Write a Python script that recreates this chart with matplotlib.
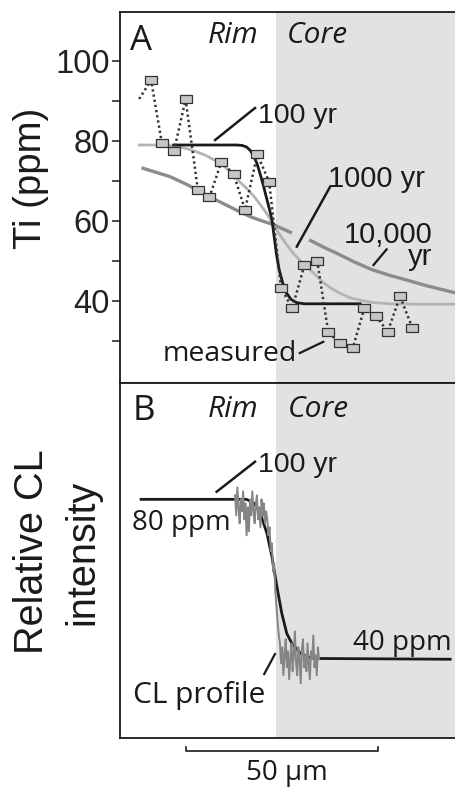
import numpy as np
import matplotlib
matplotlib.use("Agg")
import matplotlib.pyplot as plt
from matplotlib.transforms import blended_transform_factory

# x in um from the left edge of the panels, y in ppm
x_max = 87.6
rim_core_x = 40.7

# measured Ti profile (squares)
meas_x = [8.1, 10.9, 14.1, 17.1, 20.3, 23.3, 26.4, 29.6, 32.6, 35.8, 38.9, 42.0,
          44.9, 48.1, 51.4, 54.3, 57.4, 60.7, 63.7, 66.8, 69.8, 73.0, 76.2]
meas_y = [95.2, 79.6, 77.6, 90.4, 67.8, 65.9, 74.7, 71.8, 62.8, 76.7, 69.7, 43.2,
          38.2, 49.0, 50.1, 32.2, 29.4, 28.3, 38.2, 36.2, 32.3, 41.2, 33.3]
meas_lead_x = [5.0]
meas_lead_y = [90.5]

# diffusion models
yr100_x = [14.0, 30.4, 31.8, 33.0, 34.0, 34.8, 35.7, 36.5, 37.4, 38.3, 39.0, 39.6,
           40.2, 40.8, 41.5, 42.4, 43.4, 44.6, 46.0, 48.0, 62.6]
yr100_y = [79.0, 79.0, 78.9, 78.5, 77.6, 76.3, 74.4, 71.9, 68.8, 65.4, 62.8, 60.4,
           56.0, 51.6, 47.8, 44.6, 42.0, 40.4, 39.6, 39.3, 39.3]

yr1000_x = [4.7, 10.0, 14.0, 17.4, 20.0, 22.6, 25.0, 27.0, 29.0, 31.3, 33.0, 34.8,
            36.5, 38.3, 40.0, 41.7, 43.5, 45.2, 47.0, 48.7, 51.0, 53.0, 55.0, 57.4,
            60.0, 62.6, 66.0, 70.4, 78.0, 87.6]
yr1000_y = [79.0, 79.0, 78.8, 78.1, 77.3, 76.3, 75.0, 73.8, 72.1, 69.7, 68.2, 66.3,
            64.2, 61.8, 59.1, 56.5, 54.0, 51.9, 50.1, 48.6, 46.5, 44.6, 43.2, 41.9,
            40.8, 40.2, 39.6, 39.3, 39.2, 39.2]

yr10000_x = [5.6, 13.0, 17.5, 21.7, 26.0, 30.4, 33.9, 36.5, 40.0, 42.5, 44.8, np.nan,
             49.3, 53.0, 57.0, 61.0, 65.5, 70.0, 74.5, 80.0, 87.6]
yr10000_y = [73.3, 71.1, 69.1, 66.9, 64.8, 62.7, 61.1, 60.2, 59.1, 58.0, 57.0, np.nan,
             55.3, 53.5, 51.7, 49.8, 47.9, 46.5, 45.3, 43.8, 42.0]

# panel B: model line and CL profile (relative, on the ppm scale)
modelB_x = [5.5, 33.0, 35.0, 36.5, 38.3, 39.6, 40.9, 42.2, 43.5, 44.8, 47.0, 50.0, 86.1]
modelB_y = [80.0, 80.0, 79.0, 76.7, 71.5, 65.7, 58.2, 51.4, 46.4, 44.0, 41.5, 40.2, 40.0]

cl_y = [81, 76, 83, 78, 74, 80, 77, 82, 75, 79, 71, 78, 72, 80, 76, 82, 77, 74, 79, 81,
        75, 78, 73, 80, 76, 79, 74, 77,
        75, 71, 73, 67, 69, 62, 64, 57, 53, 49, 46,
        44, 39, 43, 36, 41, 45, 38, 42, 35, 40, 44, 37, 41, 47, 39, 36, 43, 40, 34, 42, 45,
        38, 41, 37, 44, 39, 35, 42, 40, 46, 38, 41, 36, 43, 40]
cl_x = np.linspace(30.0, 51.9, len(cl_y))

scale_bar = [17.2, 67.2]

HELV = ['Liberation Sans', 'DejaVu Sans']
MYR = ['Open Sans', 'DejaVu Sans']
shade = '#e1e2e4'
dark = '#1a1a1a'

fig = plt.figure(figsize=(4.56, 7.87), dpi=100)
axA = fig.add_axes([120/456, 1-383/787, 340/456, 371/787])
axB = fig.add_axes([120/456, 1-738/787, 340/456, 355/787])

for ax in (axA, axB):
    ax.set_xlim(0, x_max * 340/336)
    ax.axvspan(rim_core_x, 100, color=shade, zorder=0, lw=0)
    ax.spines['right'].set_visible(False)
    for s in ('left', 'top', 'bottom'):
        ax.spines[s].set_linewidth(1.3)
        ax.spines[s].set_color(dark)
    ax.set_xticks([])

###### panel A ######
axA.set_ylim(19.5, 112.25)
axA.set_yticks([40, 60, 80, 100])
axA.set_yticks([30, 50, 70, 90], minor=True)
axA.tick_params(axis='y', which='both', direction='out', length=6, width=1.1,
                color=dark, pad=1.5)
axA.tick_params(axis='y', which='major', labelsize=23.5)
for lab in axA.get_yticklabels():
    lab.set_family(HELV)
    lab.set_color('#222222')

axA.plot(yr1000_x, yr1000_y, color='#b4b4b4', lw=2.0, zorder=2, solid_capstyle='butt')
axA.plot(yr10000_x, yr10000_y, color='#8c8c8c', lw=2.4, zorder=2, solid_capstyle='butt')
axA.plot(yr100_x, yr100_y, color=dark, lw=2.0, zorder=3)
axA.plot(meas_lead_x + meas_x, meas_lead_y + meas_y, color='#333333', lw=1.8,
         linestyle=(0, (0.9, 1.2)), zorder=4)
rect = [(-1, -0.72), (1, -0.72), (1, 0.72), (-1, 0.72), (-1, -0.72)]
axA.plot(meas_x, meas_y, linestyle='none', marker=rect, markersize=8.6,
         markerfacecolor='#c6c6c6', markeredgecolor='#333333', markeredgewidth=0.9,
         zorder=5)

axA.text(2.6, 102.75, 'A', fontsize=25, family=MYR, color=dark)
axA.text(22.9, 104.5, 'Rim', fontsize=21.5, family=MYR, style='italic', color=dark)
axA.text(43.6, 104.5, 'Core', fontsize=21.5, family=MYR, style='italic', color=dark)

axA.plot([24.8, 35.2], [80.25, 88.25], color=dark, lw=1.8)
axA.text(36.0, 84.5, '100 yr', fontsize=20.5, family=HELV, color=dark, va='baseline')
axA.plot([46.1, 54.8], [53.6, 68.6], color=dark, lw=1.8)
axA.text(54.2, 68.5, '1000 yr', fontsize=21, family=HELV, color=dark, va='baseline')
axA.plot([66.1, 69.5], [49.0, 52.9], color=dark, lw=1.6)
axA.text(81.5, 49.0, '10,000\nyr', fontsize=21, family=HELV, color=dark, va='baseline',
         ha='right', multialignment='right', linespacing=0.72)
axA.plot([46.9, 53.0], [27.0, 29.8], color=dark, lw=1.6)
axA.text(11.2, 25.0, 'measured', fontsize=20.5, family=MYR, color=dark, va='baseline')

fig.text(31/456, 1-178/787, 'Ti (ppm)', rotation=90, fontsize=27.5, family=HELV,
         color=dark, ha='center', va='center')

###### panel B ######
axB.set_ylim(20.3, 109.1)
axB.set_yticks([])
axB.plot(modelB_x, modelB_y, color=dark, lw=2.0, zorder=2)
axB.plot(cl_x, cl_y, color='#858585', lw=1.4, zorder=3)

axB.text(3.4, 99.8, 'B', fontsize=25, family=MYR, color=dark)
axB.text(22.9, 100.6, 'Rim', fontsize=21.5, family=MYR, style='italic', color=dark)
axB.text(43.8, 100.6, 'Core', fontsize=21.5, family=MYR, style='italic', color=dark)
axB.plot([25.2, 35.2], [81.9, 89.4], color=dark, lw=1.8)
axB.text(36.0, 86.8, '100 yr', fontsize=20.5, family=HELV, color=dark, va='baseline')
axB.text(3.1, 72.3, '80 ppm', fontsize=20, family=MYR, color=dark, va='baseline')
axB.text(60.8, 42.3, '40 ppm', fontsize=20, family=MYR, color=dark, va='baseline')
axB.plot([37.6, 40.4], [36.3, 41.3], color=dark, lw=1.6)
axB.text(3.4, 29.1, 'CL profile', fontsize=21.5, family=MYR, color=dark, va='baseline')

fig.text(57/456, 1-552/787, 'Relative CL\nintensity', rotation=90, fontsize=28.5,
         family=HELV, color=dark, ha='center', va='center', linespacing=1.42,
         multialignment='center')

# scale bar
tr = blended_transform_factory(axB.transData, axB.transAxes)
axB.plot([scale_bar[0], scale_bar[0], scale_bar[1], scale_bar[1]],
         [-0.026, -0.037, -0.037, -0.026], color=dark, lw=1.2, transform=tr, clip_on=False)
axB.text(sum(scale_bar) / 2 + 1.2, -0.117, '50 µm', fontsize=20, family=MYR, color=dark,
         ha='center', va='baseline', transform=tr)

fig.savefig('out.png', dpi=100)
